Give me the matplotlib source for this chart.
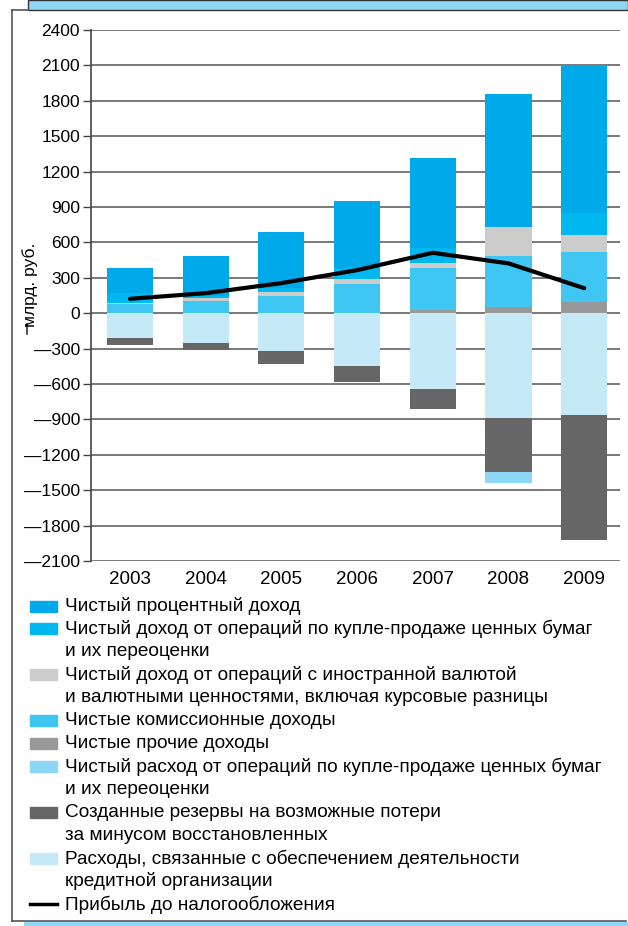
import numpy as np
import matplotlib
matplotlib.use('Agg')
import matplotlib.pyplot as plt
from matplotlib.patches import Rectangle
from matplotlib.lines import Line2D

W, H = 628, 926

years = ['2003', '2004', '2005', '2006', '2007', '2008', '2009']

# positive parts, stacked bottom -> top
other_inc = [3, 3, 3, 3, 31, 51, 96]
commission = [72, 101, 141, 243, 351, 436, 419]
fx_inc = [8, 26, 34, 43, 40, 246, 150]
sec_inc = [88, 18, 35, 95, 133, 0, 184]
interest = [209, 335, 475, 567, 761, 1121, 1256]

# negative parts, stacked from zero downwards
expenses = [207, 249, 323, 450, 645, 886, 860]
reserves = [65, 59, 107, 136, 170, 458, 1059]
sec_loss = [0, 0, 0, 0, 0, 99, 0]

profit = [122, 170, 255, 365, 512, 422, 212]

c_interest = '#00a9ea'
c_sec = '#00b8ef'
c_fx = '#cccccc'
c_comm = '#40c6f3'
c_other = '#999999'
c_loss = '#8dd7f5'
c_res = '#666666'
c_exp = '#c6e9f8'

plt.rcParams['font.family'] = ['Liberation Sans', 'DejaVu Sans']


def fx(px):
    return px / W


def fy(py):
    return 1 - py / H


fig = plt.figure(figsize=(W / 100, H / 100), dpi=100)
ax = fig.add_axes([fx(91), fy(561), fx(620 - 91), (561 - 30) / H])

x = np.arange(len(years))
bw = 0.61

pos = [other_inc, commission, fx_inc, sec_inc, interest]
pos_c = [c_other, c_comm, c_fx, c_sec, c_interest]
bottom = np.zeros(len(years))
for vals, col in zip(pos, pos_c):
    ax.bar(x, vals, bw, bottom=bottom, color=col, zorder=2)
    bottom += np.array(vals)

neg = [expenses, reserves, sec_loss]
neg_c = [c_exp, c_res, c_loss]
bottom = np.zeros(len(years))
for vals, col in zip(neg, neg_c):
    v = -np.array(vals)
    ax.bar(x, v, bw, bottom=bottom, color=col, zorder=2)
    bottom += v

ax.plot(x, profit, color='black', lw=3, zorder=3, solid_capstyle='round')

ax.set_xlim(-0.515, 6.473)
ax.set_ylim(-2100, 2400)
yt = np.arange(-2100, 2401, 300)
ax.set_yticks(yt)
ax.set_yticklabels([str(v) if v >= 0 else '\u2014' + str(-v) for v in yt], fontsize=12.5)
ax.set_xticks(x)
ax.set_xticklabels(years, fontsize=13.5)
ax.tick_params(axis='x', length=0, pad=7)
ax.tick_params(axis='y', length=6, width=1, color='#444', pad=2)
ax.grid(axis='y', color='#555', lw=1.1, zorder=1)
for s in ['top', 'bottom', 'right']:
    ax.spines[s].set_visible(False)
ax.spines['left'].set_color('#444')
ax.spines['left'].set_linewidth(1.2)

fig.text(fx(30), fy(285), 'млрд. руб.', rotation=90, fontsize=12.5, ha='center', va='center')
fig.add_artist(Line2D([fx(27), fx(27)], [fy(324), fy(334)], color='#333', lw=1.2))

# legend
entries = [
    (c_interest, ['Чистый процентный доход']),
    (c_sec, ['Чистый доход от операций по купле-продаже ценных бумаг', 'и их переоценки']),
    (c_fx, ['Чистый доход от операций с иностранной валютой',
            'и валютными ценностями, включая курсовые разницы']),
    (c_comm, ['Чистые комиссионные доходы']),
    (c_other, ['Чистые прочие доходы']),
    (c_loss, ['Чистый расход от операций по купле-продаже ценных бумаг', 'и их переоценки']),
    (c_res, ['Созданные резервы на возможные потери', 'за минусом восстановленных']),
    (c_exp, ['Расходы, связанные с обеспечением деятельности', 'кредитной организации']),
    ('line', ['Прибыль до налогообложения']),
]
y0 = 606
step = 22.95
k = 0
for col, lines in entries:
    yc = y0 + k * step
    if col == 'line':
        fig.add_artist(Line2D([fx(30), fx(57)], [fy(yc), fy(yc)], color='black', lw=2.5))
    else:
        fig.add_artist(Rectangle((fx(30), fy(yc + 5.5)), fx(27), 11 / H, color=col,
                                 transform=fig.transFigure))
    for ln in lines:
        fig.text(fx(65), fy(y0 + k * step), ln, fontsize=13.7, va='center', ha='left')
        k += 1

# page frame
fig.add_artist(Rectangle((fx(28), fy(10)), fx(600), 10 / H, facecolor='#8dd7f5',
                         edgecolor='#333', lw=1, transform=fig.transFigure))
fig.add_artist(Line2D([fx(12), fx(12)], [fy(10), fy(921)], color='#555', lw=1.2))
fig.add_artist(Line2D([fx(12), fx(626)], [fy(921), fy(921)], color='#555', lw=1.2))
fig.add_artist(Line2D([fx(12), fx(28)], [fy(10), fy(10)], color='#555', lw=1.2))
fig.add_artist(Rectangle((fx(24), fy(926)), fx(604), 4 / H, facecolor='#8dd7f5',
                         edgecolor='none', transform=fig.transFigure))

fig.savefig('out.png', dpi=100)
